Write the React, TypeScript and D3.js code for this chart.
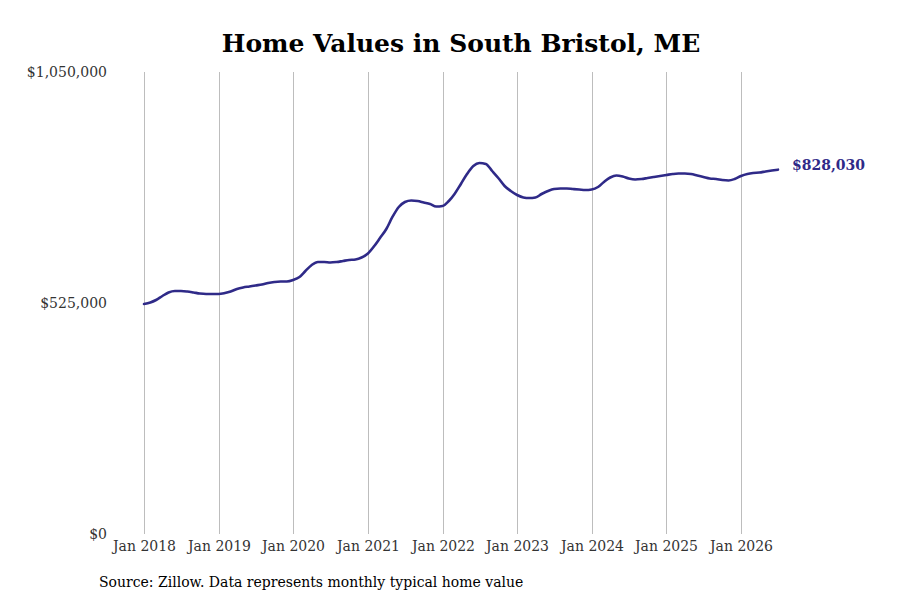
import { useEffect, useRef } from 'react';
import * as d3 from 'd3';

// Monthly typical home value, Jan 2018 .. Jul 2026
const START_YEAR = 2018;
const VALUES = [
  522700, 526100, 531800, 540900, 548900, 552300, 552300, 551100, 548900, 546600, 545500, 545500,
  545500, 547700, 551100, 556800, 560200, 562500, 564800, 567000, 570500, 572700, 573900, 573900,
  577300, 584100, 597700, 611400, 618200, 618200, 617000, 618200, 620500, 622700, 623900, 628400,
  637500, 654500, 672700, 693200, 720500, 743200, 754500, 758000, 756800, 753400, 750000, 744300,
  745500, 756800, 772700, 795500, 818200, 836400, 843200, 840900, 825000, 809100, 790900, 779500,
  770500, 764800, 763600, 764800, 772700, 779500, 784100, 785200, 785200, 784100, 783000, 781800,
  783000, 788600, 800000, 810200, 814800, 812500, 808000, 805700, 806800, 809100, 811400, 813600,
  815900, 818200, 819300, 819300, 818200, 814800, 811400, 808000, 806800, 804500, 803400, 806800,
  813600, 818200, 820500, 821600, 823900, 826100, 828030,
];
const Y_TICKS = [0, 525000, 1050000];
const X_TICK_YEARS = [2018, 2019, 2020, 2021, 2022, 2023, 2024, 2025, 2026];

const WIDTH = 900;
const HEIGHT = 600;
const LINE_COLOUR = '#2f2a88';
const FONT = '"DejaVu Serif", serif';

export default function App() {
  const svgRef = useRef<SVGSVGElement>(null);

  useEffect(() => {
    document.body.style.margin = '0';
    if (!svgRef.current) return;
    const svg = d3.select(svgRef.current);
    svg.selectAll('*').remove();

    const data = VALUES.map((v, i) => ({ date: new Date(START_YEAR, i, 1), value: v }));

    const x = d3.scaleTime()
      .domain([new Date(2018, 0, 1), new Date(2026, 0, 1)])
      .range([144, 741]);
    const y = d3.scaleLinear().domain([0, 1050000]).range([534, 72]);

    svg.append('rect').attr('width', WIDTH).attr('height', HEIGHT).attr('fill', '#fff');

    // Title
    svg.append('text')
      .attr('x', 461)
      .attr('y', 52)
      .attr('text-anchor', 'middle')
      .attr('font-family', FONT)
      .attr('font-weight', 'bold')
      .attr('font-size', '25px')
      .attr('fill', '#000')
      .text('Home Values in South Bristol, ME');

    // Vertical grid + x labels
    X_TICK_YEARS.forEach((yr) => {
      const xp = Math.round(x(new Date(yr, 0, 1))) + 0.5;
      svg.append('line')
        .attr('x1', xp).attr('x2', xp)
        .attr('y1', y(1050000)).attr('y2', y(0))
        .attr('stroke', '#bdbdbd')
        .attr('stroke-width', 1);
      svg.append('text')
        .attr('x', xp)
        .attr('y', 551)
        .attr('text-anchor', 'middle')
        .attr('font-family', FONT)
        .attr('font-size', '14px')
        .attr('fill', '#333')
        .text(`Jan ${yr}`);
    });

    // Y labels
    Y_TICKS.forEach((t) => {
      svg.append('text')
        .attr('x', 107)
        .attr('y', y(t) + 5)
        .attr('text-anchor', 'end')
        .attr('font-family', FONT)
        .attr('font-size', '14px')
        .attr('fill', '#333')
        .text(d3.format('$,')(t));
    });

    // Line
    const line = d3.line<{ date: Date; value: number }>()
      .x((d) => x(d.date))
      .y((d) => y(d.value))
      .curve(d3.curveMonotoneX);

    svg.append('path')
      .datum(data)
      .attr('d', line)
      .attr('fill', 'none')
      .attr('stroke', LINE_COLOUR)
      .attr('stroke-width', 2.6)
      .attr('stroke-linejoin', 'round')
      .attr('stroke-linecap', 'round');

    // End label
    const last = data[data.length - 1];
    svg.append('text')
      .attr('x', x(last.date) + 14)
      .attr('y', y(last.value))
      .attr('font-family', FONT)
      .attr('font-weight', 'bold')
      .attr('font-size', '14px')
      .attr('fill', LINE_COLOUR)
      .text(d3.format('$,')(last.value));

    // Source
    svg.append('text')
      .attr('x', 99)
      .attr('y', 587)
      .attr('font-family', FONT)
      .attr('font-size', '14px')
      .attr('fill', '#000')
      .text('Source: Zillow. Data represents monthly typical home value');
  }, []);

  return <svg ref={svgRef} width={WIDTH} height={HEIGHT} style={{ display: 'block' }} />;
}
